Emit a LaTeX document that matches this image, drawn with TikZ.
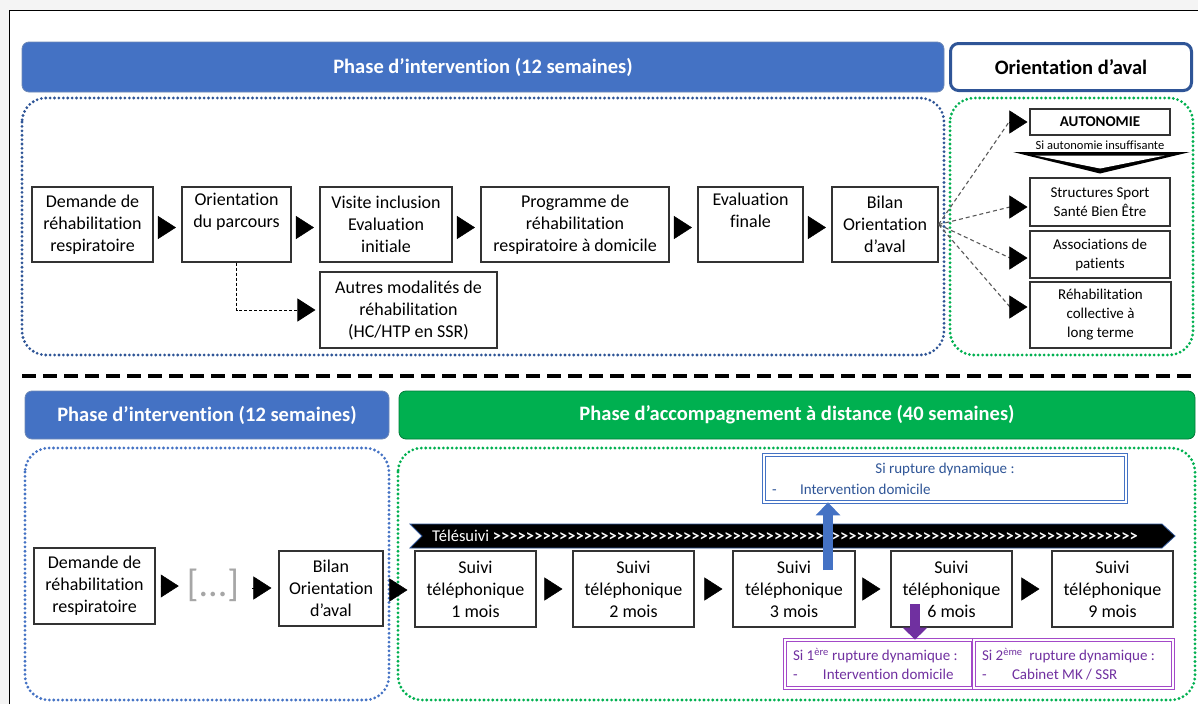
\documentclass[tikz,border=0pt]{standalone}
\usepackage{fontspec}
\setmainfont{Carlito}[Ligatures={TeX,NoCommon}]
\usetikzlibrary{arrows.meta,calc}
\definecolor{hblue}{HTML}{4472C4}
\definecolor{dblue}{HTML}{2F5597}
\definecolor{hgreen}{HTML}{00B050}
\definecolor{purp}{HTML}{7030A0}
\definecolor{purpl}{HTML}{A349C8}
\definecolor{tgray}{HTML}{A6A6A6}
\definecolor{bgray}{HTML}{F4F4F4}
\newcommand\myfs[2]{\fontsize{#1}{#2}\selectfont}
\begin{document}
\begin{tikzpicture}[x=1pt,y=-1pt,
  bx/.style={draw=black!80,line width=1.1pt,fill=white,inner sep=0pt,align=center,font=\myfs{18}{22}},
  rbx/.style={bx,font=\myfs{15}{19}},
  hbar/.style={rounded corners=7pt,fill=hblue,draw=dblue!70,line width=0.8pt,text=white,inner sep=0pt,font=\bfseries\myfs{20.5}{24}},
  dotframe/.style={line width=3.1pt,dash pattern=on 0pt off 4.4pt,line cap=round,rounded corners=24pt},
  tri/.style={-{Triangle[length=18pt,width=23pt]},line width=0.5pt,black},
  fan/.style={draw=black!65,line width=1.1pt,dash pattern=on 4pt off 3pt},
  dbl/.style={double,double distance=1.6pt,line width=0.8pt,fill=white,inner sep=0pt}
]
\useasboundingbox (0,0) rectangle (1198,704);
\fill[bgray] (0,0) rectangle (1198,704);
\fill[white] (9.5,10.5) rectangle (1198,704);
\draw[line width=1.5pt] (9.5,704) -- (9.5,10.5) -- (1198,10.5);

% ---------- top part ----------
\node[hbar,minimum width=922pt,minimum height=50pt] (hb1) at (483,67) {Phase d’intervention (12 semaines)};
\node[draw=dblue,line width=3pt,rounded corners=8pt,fill=white,minimum width=241pt,minimum height=47pt,inner sep=0pt,font=\bfseries\myfs{20.5}{24}] (hor) at (1071,67) {Orientation d’aval};

\draw[dotframe,dblue] (22,98) rectangle (944,355);
\draw[dotframe,hgreen] (950,98) rectangle (1193,355);

\node[bx,minimum width=121pt,minimum height=75pt] (dem1) at (92.5,224.5) {Demande de\\réhabilitation\\respiratoire};
\node[bx,minimum width=109pt,minimum height=75pt] (ori) at (236.5,224.5) {Orientation\\du parcours\\\strut};
\node[bx,minimum width=132pt,minimum height=75pt] (vis) at (386,224.5) {Visite inclusion\\Evaluation\\initiale};
\node[bx,minimum width=188pt,minimum height=75pt] (prog) at (575,224.5) {Programme de\\réhabilitation\\respiratoire à domicile};
\node[bx,minimum width=105pt,minimum height=75pt] (eva) at (750.5,224.5) {Evaluation\\finale\\\strut};
\node[bx,minimum width=106pt,minimum height=75pt] (bil1) at (885,224.5) {Bilan\\Orientation\\d’aval};
\node[bx,minimum width=177pt,minimum height=76pt] (aut) at (408.5,310) {Autres modalités de\\réhabilitation\\(HC/HTP en SSR)};

\foreach \a/\b in {dem1/ori,ori/vis,vis/prog,prog/eva,eva/bil1}
  \draw[tri,shorten <=5.5pt,shorten >=5.5pt] ([yshift=-3pt]\a.east) -- ([yshift=-3pt]\b.west);

\draw[line width=0.9pt,dash pattern=on 3pt off 2pt,-{Triangle[length=18pt,width=23pt]},shorten >=4pt] (ori.south) |- (aut.west);

% right column
\node[rbx,minimum width=140pt,minimum height=26pt,font=\bfseries\myfs{15}{19}] (auto) at (1100,122) {AUTONOMIE};
\node[font=\myfs{12.5}{14},inner sep=0pt] (insuf) at (1100,145) {Si autonomie insuffisante};
\fill (1013,152) -- (1190,152) -- (1100,173.5) -- cycle;
\fill[white] (1035,155.5) -- (1165,155.5) -- (1100,168.5) -- cycle;
\node[rbx,minimum width=140pt,minimum height=48pt] (ssbe) at (1100,202) {Structures Sport\\Santé Bien Être};
\node[rbx,minimum width=140pt,minimum height=47pt] (asso) at (1100,254.5) {Associations de\\patients};
\node[rbx,minimum width=141pt,minimum height=66pt] (rhc) at (1100.5,315) {Réhabilitation\\collective à\\long terme};

\coordinate (fa) at (1009,122);
\coordinate (fb) at (1010,207);
\coordinate (fc) at (1010,258);
\coordinate (fd) at (1010,307);
\foreach \c in {fa,fb,fc,fd} \draw[fan] (bil1.east) -- (\c);
\draw[tri,shorten >=2pt] (fa) -- (fa -| auto.west);
\draw[tri,shorten >=2pt] (fb) -- (fb -| ssbe.west);
\draw[tri,shorten >=2pt] (fc) -- (fc -| asso.west);
\draw[tri,shorten >=2pt] (fd) -- (fd -| rhc.west);

% ---------- separator ----------
\draw[line width=4.5pt,dash pattern=on 14pt off 7pt] (22,376) -- (1195,376);

% ---------- bottom part ----------
\node[hbar,minimum width=364pt,minimum height=48pt] (hb2) at (207,415) {Phase d’intervention (12 semaines)};
\node[hbar,fill=hgreen,draw=hgreen!70!black,minimum width=796pt,minimum height=48pt] (hb3) at (797,415) {Phase d’accompagnement à distance (40 semaines)};

\draw[dotframe,hblue] (25,448) rectangle (389,700);
\draw[dotframe,hgreen] (398,448) rectangle (1195,700);

\node[bx,minimum width=121pt,minimum height=76pt] (dem2) at (94.5,586) {Demande de\\réhabilitation\\respiratoire};
\node[text=tgray,font=\myfs{38}{40},inner sep=0pt] (dots) at (213,585) {[...]};
\node[bx,minimum width=104pt,minimum height=75pt] (bil2) at (331,588.5) {Bilan\\Orientation\\d’aval};

\draw[tri,shorten <=5pt,shorten >=8pt] (dem2.east) -- (dem2.east -| dots.west);
\draw[tri,shorten <=13pt,shorten >=7pt] ([yshift=-3pt]dots.east) -- ([yshift=-3pt]dots.east -| bil2.west);

% telesuivi banner
\filldraw[fill=black,draw=dblue,line width=0.8pt] (410,524) -- (1162,524) -- (1175,536) -- (1162,548) -- (410,548) -- (422,536) -- cycle;
\node[anchor=base west,text=white,inner sep=0pt,font=\myfs{16.5}{18}] (tele) at (432,541.5) {Télésuivi \hbox to 645pt{\xleaders\hbox{\bfseries >}\hfill}};

\node[bx,minimum width=121pt,minimum height=76pt] (s1) at (475.5,589) {Suivi\\téléphonique\\1 mois};
\node[bx,minimum width=121pt,minimum height=76pt] (s2) at (633.5,589) {Suivi\\téléphonique\\2 mois};
\node[bx,minimum width=122pt,minimum height=76pt] (s3) at (794,589) {Suivi\\téléphonique\\3 mois};
\node[bx,minimum width=121pt,minimum height=76pt] (s6) at (951.5,589) {Suivi\\téléphonique\\6 mois};
\node[bx,minimum width=121pt,minimum height=76pt] (s9) at (1112.5,589) {Suivi\\téléphonique\\9 mois};

\draw[tri,shorten <=6pt,shorten >=7pt] ([yshift=-1.5pt]bil2.east) -- ([yshift=-1.5pt]bil2.east -| s1.west);
\draw[tri,shorten <=8pt,shorten >=10pt] (s1.east) -- (s2.west);
\draw[tri,shorten <=10pt,shorten >=10pt] (s2.east) -- (s3.west);
\draw[tri,shorten <=7pt,shorten >=10pt] (s3.east) -- (s6.west);
\draw[tri,shorten <=9pt,shorten >=12pt] (s6.east) -- (s9.west);

% rupture boxes
\node[dbl,draw=hblue,minimum width=362pt,minimum height=47pt,text=dblue,font=\myfs{15}{21}] (rupt) at (945,478.5)
  {\parbox{346pt}{\centering Si rupture dynamique :\par\raggedright\makebox[28pt][l]{-}Intervention domicile}};
\node[dbl,draw=purpl,minimum width=188pt,minimum height=48pt,text=purp,font=\myfs{15}{19}] (p1) at (879,664)
  {\parbox{172pt}{\raggedright Si 1\textsuperscript{ère} rupture dynamique :\\\makebox[30pt][l]{-}Intervention domicile}};
\node[dbl,draw=purpl,minimum width=199pt,minimum height=48pt,text=purp,font=\myfs{15}{19}] (p2) at (1073.5,664)
  {\parbox{183pt}{\raggedright Si 2\textsuperscript{ème}\ \ rupture dynamique :\\\makebox[30pt][l]{-}Cabinet MK / SSR}};

\coordinate (bu) at (828,570);
\draw[hblue,line width=10pt,-{Triangle[length=13pt,width=24pt]}] (bu) -- (bu |- rupt.south);
\coordinate (pu) at (915,604);
\draw[purp,line width=10pt,-{Triangle[length=12pt,width=24pt]}] (pu) -- (pu |- p1.north);
\end{tikzpicture}
\end{document}
